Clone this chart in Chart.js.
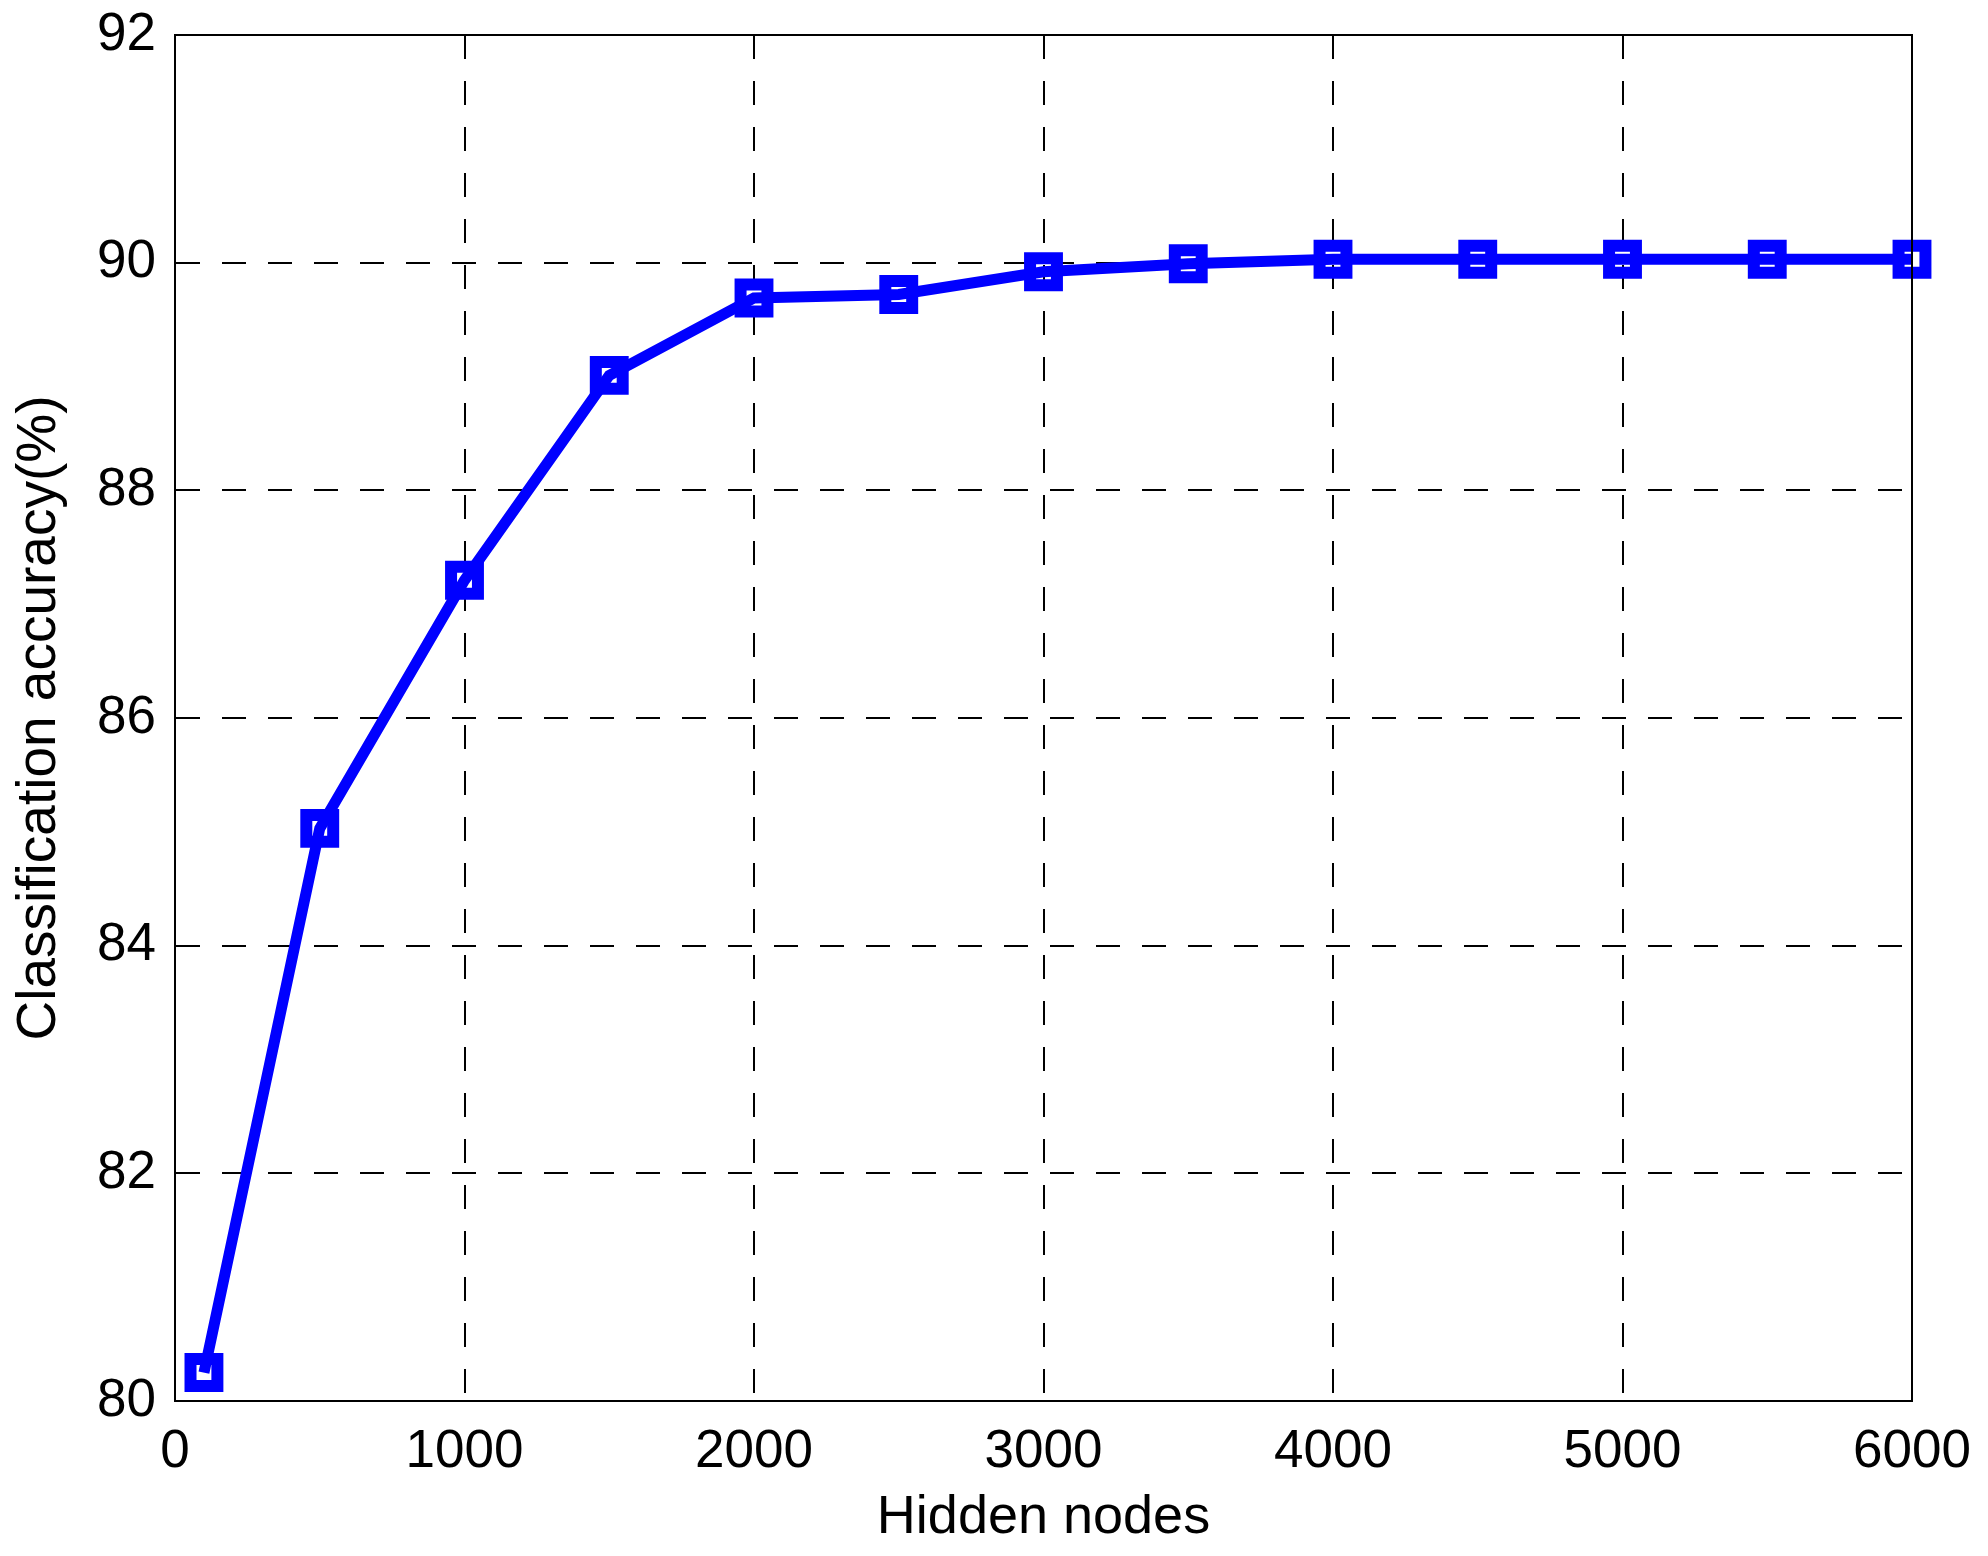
<!DOCTYPE html>
<html>
<head>
<meta charset="utf-8">
<script src="https://cdn.jsdelivr.net/npm/chart.js@4"></script>
<style>
    html, body { margin: 0; padding: 0; background: #ffffff; }
    #wrap { width: 1988px; height: 1556px; }
</style>
</head>
<body>
<div id="wrap"><canvas id="accChart" width="1988" height="1556"></canvas></div>
<script>
const hiddenNodes = [100, 500, 1000, 1500, 2000, 2500, 3000, 3500, 4000, 4500, 5000, 5500, 6000];
const accuracy = [80.25, 85.03, 87.21, 89.01, 89.69, 89.72, 89.92, 89.99, 90.03, 90.03, 90.03, 90.03, 90.03];
const xTicks = [0, 1000, 2000, 3000, 4000, 5000, 6000];
const yTicks = [80, 82, 84, 86, 88, 90, 92];

const fontFamily = '"Liberation Sans", Arial, Helvetica, sans-serif';

// box round the plot area (MATLAB style axes)
const frameBox = {
    id: 'frameBox',
    afterDatasetsDraw(chart) {
        const { ctx, chartArea } = chart;
        ctx.save();
        ctx.strokeStyle = '#000000';
        ctx.lineWidth = 2;
        ctx.strokeRect(chartArea.left, chartArea.top, chartArea.right - chartArea.left, chartArea.bottom - chartArea.top);
        ctx.restore();
    }
};

// keep the plot area where the layout padding puts it
const noOverhang = (scale) => {
    scale.paddingTop = 0;
    scale.paddingBottom = 0;
    scale.paddingLeft = 0;
    scale.paddingRight = 0;
};

const ctx = document.getElementById('accChart').getContext('2d');

new Chart(ctx, {
    type: 'line',
    data: {
        datasets: [{
            label: 'Accuracy',
            data: hiddenNodes.map((x, i) => ({ x: x, y: accuracy[i] })),
            borderColor: '#0000ff',
            borderWidth: 11,
            tension: 0,
            pointStyle: 'rect',
            pointRadius: 19,
            pointBorderWidth: 12,
            pointBorderColor: '#0000ff',
            pointBackgroundColor: 'rgba(0,0,0,0)',
            clip: false
        }]
    },
    options: {
        responsive: false,
        animation: false,
        events: [],
        layout: {
            padding: { top: 35, right: 76, left: 0, bottom: 0 }
        },
        plugins: {
            legend: { display: false },
            tooltip: { enabled: false }
        },
        scales: {
            x: {
                type: 'linear',
                min: 0,
                max: 6000,
                afterBuildTicks: (scale) => {
                    scale.ticks = xTicks.map(v => ({ value: v }));
                },
                afterFit: (scale) => {
                    scale.height = 155;
                    noOverhang(scale);
                },
                grid: {
                    color: '#000000',
                    lineWidth: 2,
                    drawTicks: false
                },
                border: {
                    display: true,
                    color: '#000000',
                    width: 2,
                    dash: [24, 22]
                },
                ticks: {
                    color: '#000000',
                    padding: 20,
                    maxRotation: 0,
                    callback: (v) => String(v),
                    font: { family: fontFamily, size: 53 }
                },
                title: {
                    display: true,
                    text: 'Hidden nodes',
                    color: '#000000',
                    padding: { top: 0, bottom: 5 },
                    font: { family: fontFamily, size: 54 }
                }
            },
            y: {
                type: 'linear',
                min: 80,
                max: 92,
                afterBuildTicks: (scale) => {
                    scale.ticks = yTicks.map(v => ({ value: v }));
                },
                afterFit: (scale) => {
                    scale.width = 175;
                    noOverhang(scale);
                },
                grid: {
                    color: '#000000',
                    lineWidth: 2,
                    drawTicks: false
                },
                border: {
                    display: true,
                    color: '#000000',
                    width: 2,
                    dash: [24, 22]
                },
                ticks: {
                    color: '#000000',
                    padding: 19,
                    callback: (v) => String(v),
                    font: { family: fontFamily, size: 53 }
                },
                title: {
                    display: true,
                    text: 'Classification accuracy(%)',
                    color: '#000000',
                    padding: { top: 7, bottom: 0 },
                    font: { family: fontFamily, size: 55 }
                }
            }
        }
    },
    plugins: [frameBox]
});
</script>
</body>
</html>
